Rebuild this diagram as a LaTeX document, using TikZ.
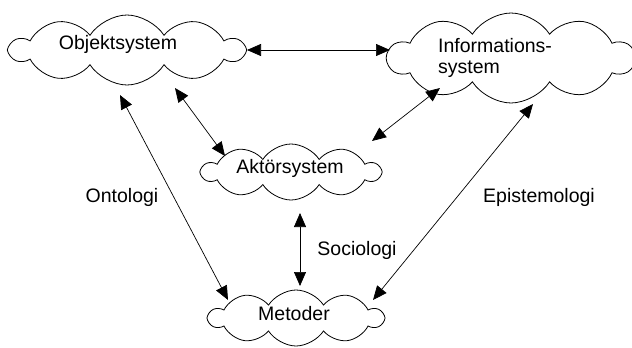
\documentclass[tikz,border=0pt]{standalone}
\usepackage{fontspec}
\setmainfont{Liberation Sans}
\usetikzlibrary{shapes.symbols,arrows.meta}
\begin{document}
\begin{tikzpicture}[x=1pt,y=-1pt,
  puff/.style={cloud, draw, line width=0.8pt, cloud puffs=10, cloud puff arc=115,
    aspect=3, inner sep=0pt, fill=white},
  lbl/.style={font=\fontsize{19.5}{21}\selectfont, inner sep=0pt},
  link/.style={line width=0.7pt, {Triangle[length=14pt,width=12pt]}-{Triangle[length=14pt,width=12pt]}}]
\useasboundingbox (0,0) rectangle (632,348);

% the four systems
\node[puff, minimum width=233pt, minimum height=70pt] (obj) at (127,50) {};
\node[puff, minimum width=246pt, minimum height=90pt] (inf) at (511,58) {};
\node[puff, minimum width=178pt, minimum height=56pt] (akt) at (291,172) {};
\node[puff, minimum width=174pt, minimum height=56pt] (met) at (296,318) {};

\node[lbl] (objt) at (118,44) {Objektsystem};
\node[lbl, align=left, anchor=west] (inft) at (438,58) {Informations-\\system};
\node[lbl] (aktt) at (290,168) {Aktörsystem};
\node[lbl] (mett) at (294,314) {Metoder};

% anchor points of the connectors
\coordinate (o1) at (247,50);  \coordinate (i1) at (390,50);
\coordinate (o2) at (175,88);  \coordinate (a2) at (225,156);
\coordinate (i3) at (440,88);  \coordinate (a3) at (372,141);
\coordinate (o4) at (120,95);  \coordinate (m4) at (228,300);
\coordinate (a5) at (300,213); \coordinate (m5) at (300,286);
\coordinate (i6) at (533,104); \coordinate (m6) at (373,300);

\draw[link] (o1) -- (i1);
\draw[link] (o2) -- (a2);
\draw[link] (i3) -- (a3);
\draw[link] (o4) -- (m4);
\draw[link] (a5) -- (m5);
\draw[link] (i6) -- (m6);

\node[lbl] (ont) at (122,197) {Ontologi};
\node[lbl] (epi) at (539,197) {Epistemologi};
\node[lbl] (soc) at (357,250) {Sociologi};
\end{tikzpicture}
\end{document}
